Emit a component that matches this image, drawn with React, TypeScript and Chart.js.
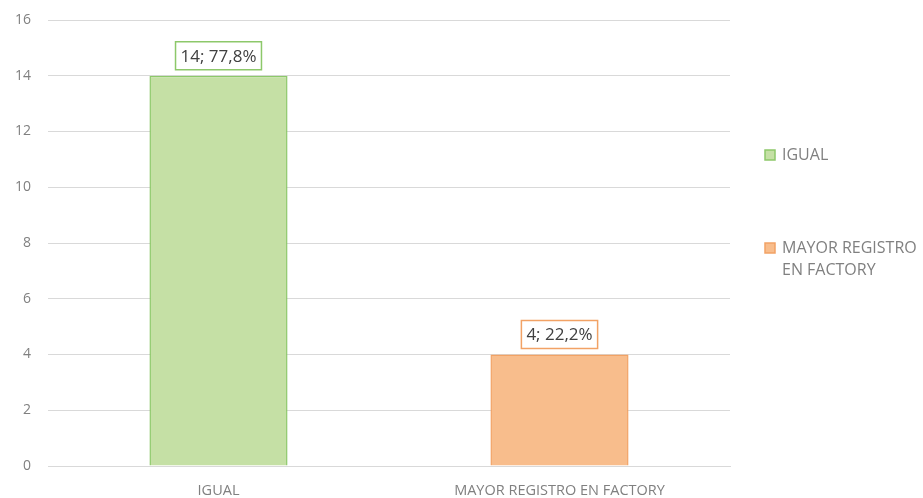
import React, { useEffect, useRef } from "react";
import { Chart, registerables } from "chart.js";

Chart.register(...registerables);

const categories = ["IGUAL", "MAYOR REGISTRO EN FACTORY"];
const values = [14, 4];
const percentLabels = ["77,8%", "22,2%"];
const legendLines = [["IGUAL"], ["MAYOR REGISTRO", "EN FACTORY"]];
const fillColors = ["#c5e0a5", "#f8bd8c"];
const borderColors = ["#8dc86a", "#f2a265"];

const FONT = "'Open Sans', 'Liberation Sans', sans-serif";

const labelPlugin = {
  id: "boxLabels",
  afterDatasetsDraw(chart: any) {
    const ctx = chart.ctx;
    const meta = chart.getDatasetMeta(0);
    ctx.save();
    ctx.font = `17px ${FONT}`;
    meta.data.forEach((bar: any, i: number) => {
      const text = `${values[i]}; ${percentLabels[i]}`;
      const w = ctx.measureText(text).width + 10;
      const h = 28;
      const x = bar.x - w / 2;
      const y = bar.y - 6 - h;
      ctx.fillStyle = "#ffffff";
      ctx.fillRect(x, y, w, h);
      ctx.strokeStyle = borderColors[i];
      ctx.lineWidth = 1.5;
      ctx.strokeRect(x, y, w, h);
      ctx.fillStyle = "#404040";
      ctx.textAlign = "center";
      ctx.textBaseline = "middle";
      ctx.fillText(text, bar.x, y + h / 2 + 1);
    });
    ctx.restore();
  },
};

const legendPlugin = {
  id: "customLegend",
  afterDraw(chart: any) {
    const ctx = chart.ctx;
    const ys = [155, 248];
    ctx.save();
    ctx.font = `16px ${FONT}`;
    ctx.textBaseline = "middle";
    ctx.textAlign = "left";
    legendLines.forEach((lines, i) => {
      const y = ys[i];
      ctx.fillStyle = fillColors[i];
      ctx.fillRect(765, y - 5, 10, 10);
      ctx.strokeStyle = borderColors[i];
      ctx.lineWidth = 1.5;
      ctx.strokeRect(765, y - 5, 10, 10);
      ctx.fillStyle = "#808080";
      lines.forEach((line, j) => {
        ctx.fillText(line, 782, y + j * 22);
      });
    });
    ctx.restore();
  },
};

export default function App() {
  const ref = useRef<HTMLCanvasElement>(null);
  useEffect(() => {
    document.body.style.margin = "0";
    const chart = new Chart(ref.current!, {
      type: "bar",
      data: {
        labels: categories,
        datasets: [
          {
            data: values,
            backgroundColor: fillColors,
            borderColor: borderColors,
            borderWidth: 1.5,
            barPercentage: 0.405,
            categoryPercentage: 1,
          },
        ],
      },
      options: {
        animation: false,
        responsive: false,
        layout: { padding: { top: 20, right: 193, left: 0, bottom: 0 } },
        plugins: { legend: { display: false }, tooltip: { enabled: false } },
        scales: {
          x: {
            grid: { display: false, drawTicks: false },
            border: { display: true, color: "#d9d9d9" },
            ticks: { color: "#808080", font: { family: FONT, size: 14.5 }, padding: 16 },
            afterFit: (s: any) => {
              s.height = 32;
              s.paddingLeft = 0;
              s.paddingRight = 0;
            },
          },
          y: {
            min: 0,
            max: 16,
            ticks: { stepSize: 2, color: "#808080", font: { family: FONT, size: 14 }, padding: 17 },
            grid: { color: "#d9d9d9", drawTicks: false },
            border: { display: false },
            afterFit: (s: any) => {
              s.width = 48;
              s.paddingTop = 0;
              s.paddingBottom = 0;
            },
          },
        },
      },
      plugins: [labelPlugin, legendPlugin],
    });
    return () => chart.destroy();
  }, []);
  return <canvas ref={ref} width={923} height={498} style={{ display: "block" }} />;
}
